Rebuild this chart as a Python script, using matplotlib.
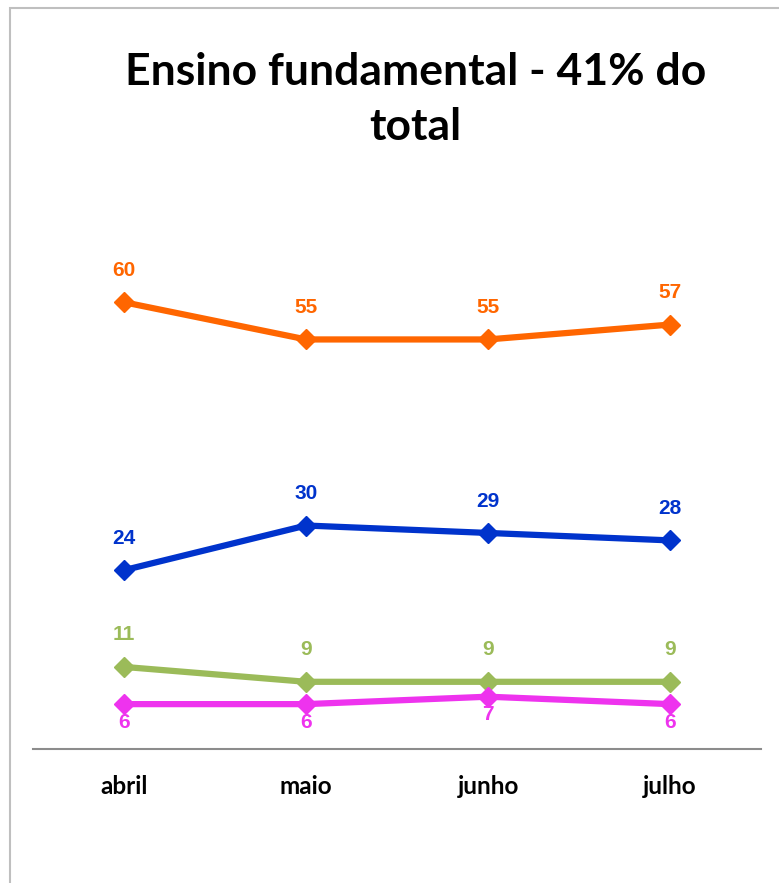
import matplotlib.pyplot as plt
from matplotlib.patches import Rectangle

meses = ['abril', 'maio', 'junho', 'julho']
laranja = [60, 55, 55, 57]
azul = [24, 30, 29, 28]
verde = [11, 9, 9, 9]
rosa = [6, 6, 7, 6]

series = [
    (laranja, '#FF6600', 'above'),
    (azul, '#0033CC', 'above'),
    (verde, '#9BBB59', 'above'),
    (rosa, '#EE33EE', 'below'),
]

fig = plt.figure(figsize=(7.79, 8.83), dpi=100)
ax = fig.add_axes([0.0424, 0.152, 0.977 - 0.0424, 0.742 - 0.152])

x = range(len(meses))
for vals, cor, pos in series:
    ax.plot(x, vals, color=cor, linewidth=4.5, marker='D', markersize=10.5,
            solid_joinstyle='round')
    for i, v in enumerate(vals):
        if pos == 'above':
            ax.annotate(str(v), (i, v), xytext=(0, 23), textcoords='offset points',
                        ha='center', va='center', color=cor, fontsize=15,
                        fontweight='bold', family='Liberation Sans')
        else:
            ax.annotate(str(v), (i, v), xytext=(0, -13), textcoords='offset points',
                        ha='center', va='center', color=cor, fontsize=15,
                        fontweight='bold', family='Liberation Sans')

ax.set_xlim(-0.5, 3.5)
ax.set_ylim(0, 70)
ax.set_xticks(list(x))
ax.set_xticklabels(meses, fontsize=17.5, fontweight='bold', family='Lato')
ax.tick_params(axis='x', length=0, pad=19)
ax.set_yticks([])
for s in ['top', 'left', 'right']:
    ax.spines[s].set_visible(False)
ax.spines['bottom'].set_color('#8c8c8c')
ax.spines['bottom'].set_linewidth(1.5)

fig.text(0.533, 0.919, 'Ensino fundamental - 41% do', ha='center', va='center',
         fontsize=32, fontweight='bold', family='Lato')
fig.text(0.533, 0.856, 'total', ha='center', va='center',
         fontsize=32, fontweight='bold', family='Lato')

# moldura cinza (cortada a direita e embaixo)
fig.patches.append(Rectangle((9.5 / 779, -0.05), 1.1, 1.05 - 8.5 / 883,
                             transform=fig.transFigure, fill=False,
                             edgecolor='#bfbfbf', linewidth=1.5))

fig.savefig('out.png', dpi=100)
